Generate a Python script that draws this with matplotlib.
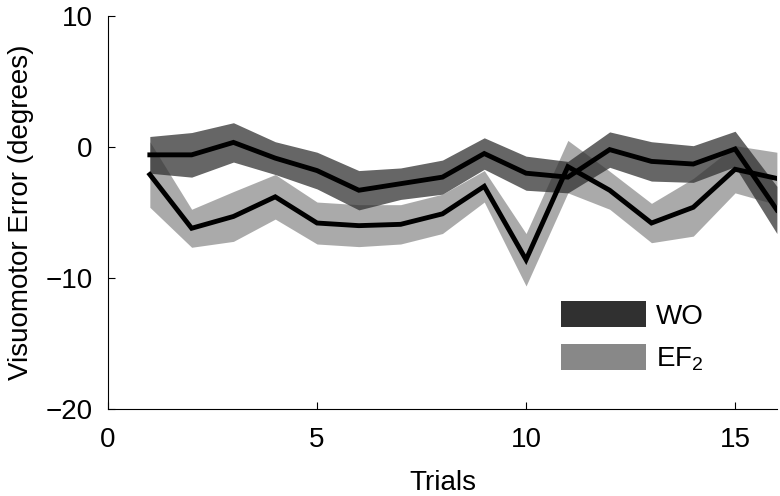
import numpy as np
import matplotlib
matplotlib.use('Agg')
import matplotlib.pyplot as plt
from matplotlib.patches import Patch

plt.rcParams['font.family'] = ['Liberation Sans', 'DejaVu Sans']
plt.rcParams['mathtext.default'] = 'regular'

# --- data ---
trials = [1, 2, 3, 4, 5, 6, 7, 8, 9, 10, 11, 12, 13, 14, 15, 16]
wo_mean = [-0.6, -0.6, 0.35, -0.85, -1.8, -3.3, -2.8, -2.3, -0.5, -2.0, -2.3, -0.2, -1.1, -1.3, -0.15, -4.8]
wo_err = [1.4, 1.7, 1.5, 1.25, 1.4, 1.5, 1.2, 1.3, 1.2, 1.3, 1.2, 1.35, 1.5, 1.4, 1.35, 1.8]
ef2_mean = [-2.1, -6.2, -5.3, -3.8, -5.8, -6.0, -5.9, -5.1, -3.0, -8.6, -1.5, -3.3, -5.8, -4.6, -1.7, -2.4]
ef2_err = [2.5, 1.45, 1.9, 1.7, 1.6, 1.6, 1.5, 1.5, 1.2, 2.0, 2.0, 1.45, 1.5, 2.2, 1.8, 2.0]

WO_COLOR = '#303030'
EF2_COLOR = '#888888'
FS = 20

x = np.array(trials)
wo_m, wo_e = np.array(wo_mean), np.array(wo_err)
ef_m, ef_e = np.array(ef2_mean), np.array(ef2_err)

fig = plt.figure(figsize=(7.8, 4.96), dpi=100)
ax = fig.add_axes([0.1385, 0.175, 0.8575, 0.793])

ax.fill_between(x, ef_m - ef_e, ef_m + ef_e, color=EF2_COLOR, alpha=0.71, linewidth=0)
ax.fill_between(x, wo_m - wo_e, wo_m + wo_e, color=WO_COLOR, alpha=0.74, linewidth=0)
ax.plot(x, ef_m, color='black', linewidth=3.5, solid_joinstyle='miter')
ax.plot(x, wo_m, color='black', linewidth=3.5, solid_joinstyle='miter')

ax.set_xlim(0, 16)
ax.set_ylim(-20, 10)
ax.set_xticks([0, 5, 10, 15])
ax.set_yticks([-20, -10, 0, 10])
ax.tick_params(direction='in', length=5, labelsize=FS)
ax.tick_params(axis='x', pad=13)
ax.tick_params(axis='y', pad=11)
for s in ['top', 'right']:
    ax.spines[s].set_visible(False)

ax.set_xlabel('Trials', fontsize=FS, labelpad=12)
ax.set_ylabel('Visuomotor Error (degrees)', fontsize=FS, labelpad=8)

handles = [Patch(facecolor=WO_COLOR, edgecolor='none'),
           Patch(facecolor=EF2_COLOR, edgecolor='none')]
ax.legend(handles, ['WO', 'EF$_2$'], loc='upper left', bbox_to_anchor=(0.657, 0.31),
          frameon=False, fontsize=FS, handlelength=3.05, handleheight=1.05,
          handletextpad=0.35, labelspacing=0.53, borderpad=0)

fig.savefig('out.png', dpi=100)
